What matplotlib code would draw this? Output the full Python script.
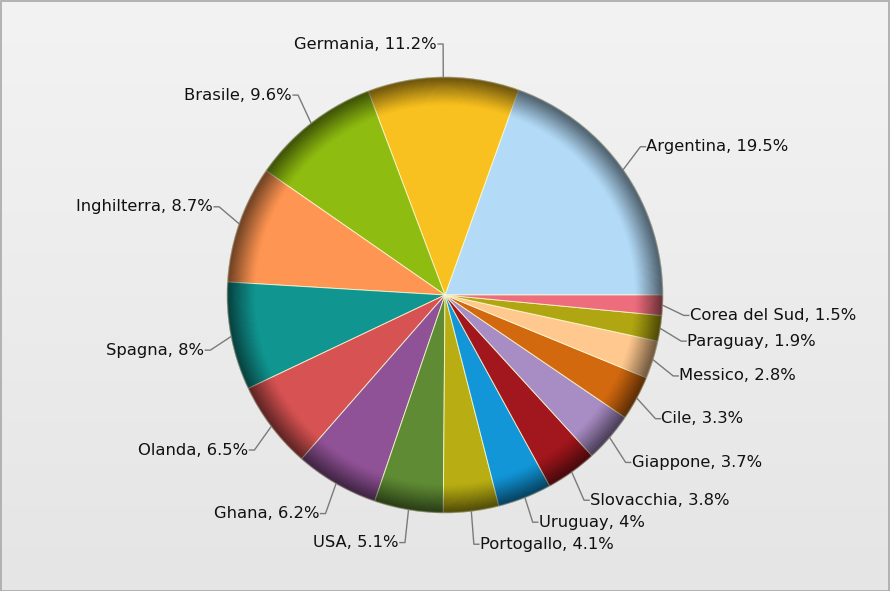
import numpy as np
import matplotlib
matplotlib.use("Agg")
import matplotlib.pyplot as plt
from matplotlib.patches import Wedge, Rectangle

countries = ["Argentina", "Germania", "Brasile", "Inghilterra", "Spagna", "Olanda",
             "Ghana", "USA", "Portogallo", "Uruguay", "Slovacchia", "Giappone",
             "Cile", "Messico", "Paraguay", "Corea del Sud"]
shares = [19.5, 11.2, 9.6, 8.7, 8, 6.5, 6.2, 5.1, 4.1, 4, 3.8, 3.7, 3.3, 2.8, 1.9, 1.5]
share_labels = ["19.5%", "11.2%", "9.6%", "8.7%", "8%", "6.5%", "6.2%", "5.1%",
                "4.1%", "4%", "3.8%", "3.7%", "3.3%", "2.8%", "1.9%", "1.5%"]
colors = ["#b3dbf8", "#f8c11f", "#8fbc11", "#fe9552", "#119590", "#d75252",
          "#905296", "#5f8b34", "#b8ad13", "#1296d8", "#a2171d", "#a88cc4",
          "#d2690f", "#fec88e", "#b0a611", "#ee6d7d"]

W, H = 890, 591
fig = plt.figure(figsize=(W / 100, H / 100), dpi=100)
ax = fig.add_axes([0, 0, 1, 1])

# background gradient (light at top, a bit darker at bottom)
grad = np.linspace(0, 1, 256).reshape(-1, 1)
bg = matplotlib.colors.LinearSegmentedColormap.from_list("bg", ["#f3f3f3", "#e5e5e5"])
ax.imshow(grad, cmap=bg, extent=[0, W, 0, H], origin="upper", aspect="auto", zorder=0)
ax.add_patch(Rectangle((0.5, 0.5), W - 1.5, H - 1.5, fill=False, ec="#a8a8a8", lw=1.2, zorder=1))

cx, cy, R = 445, H - 295, 218

wedges, _ = ax.pie(shares, colors=colors, startangle=0, counterclock=True,
                   center=(cx, cy), radius=R, normalize=True,
                   wedgeprops=dict(edgecolor=(1, 1, 0.85, 0.75), linewidth=0.7))
for w in wedges:
    w.set_zorder(2)

# rim shading
n = 30
ring = 0.13
for i in range(n):
    r_out = R * (1 - ring + ring * (i + 1) / n)
    a = 0.42 * ((i + 1) / n) ** 1.3
    ax.add_patch(Wedge((cx, cy), r_out + 0.3, 0, 360, width=R * ring / n + 0.6,
                       fc="black", ec="none", alpha=a, zorder=3))
# thin softer outline
ax.add_patch(Wedge((cx, cy), R, 0, 360, width=1.2, fc=(1, 1, 1, 0.15), ec="none", zorder=3))

ax.set_xlim(0, W)
ax.set_ylim(0, H)
ax.set_aspect("equal")
ax.axis("off")

# label positions
total = sum(shares)
mids = np.deg2rad((np.cumsum(shares) - np.array(shares) / 2) / total * 360)
lx = cx + (R + 21) * np.cos(mids)
ly = cy + (R + 24) * np.sin(mids) + 9 * np.sign(np.sin(mids))

# keep lower right labels apart
lower_right = [i for i in range(len(mids)) if np.cos(mids[i]) >= 0 and np.sin(mids[i]) < 0]
lower_right.sort(key=lambda i: ly[i])
for k in range(1, len(lower_right)):
    i, j = lower_right[k], lower_right[k - 1]
    if ly[i] - ly[j] < 22:
        ly[i] = ly[j] + 22

for name, lab, m, x1, y1 in zip(countries, share_labels, mids, lx, ly):
    c, s = np.cos(m), np.sin(m)
    x0, y0 = cx + R * c, cy + R * s
    side = 1 if c >= 0 else -1
    x2 = x1 + side * 5
    ax.plot([x0, x1, x2], [y0, y1, y1], color="#7a7a7a", lw=1, zorder=4)
    ax.text(x2 + side * 1, y1, f"{name}, {lab}", ha="left" if side > 0 else "right",
            va="center", fontsize=11.8, color="#111111", zorder=5)

fig.savefig("out.png", dpi=100)
